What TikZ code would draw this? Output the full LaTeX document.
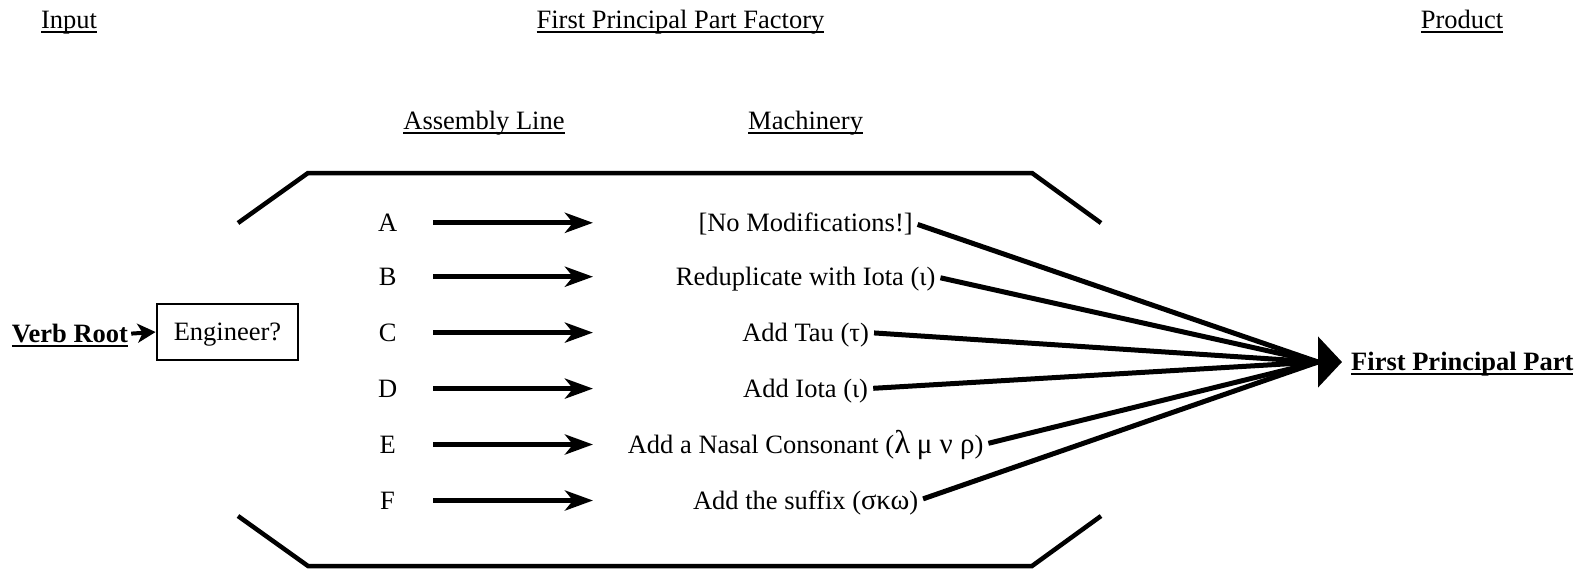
\documentclass[tikz,border=0pt]{standalone}
\usepackage{fontspec}
\setmainfont{Liberation Serif}
\usetikzlibrary{arrows.meta}
\newsavebox\ulbox
\newcommand\ulined[1]{\sbox\ulbox{#1}\rlap{\rule[-4.5pt]{\wd\ulbox}{2.2pt}}\usebox\ulbox}
\begin{document}
\begin{tikzpicture}[x=1pt,y=-1pt,
  txt/.style={inner sep=0pt, text height=17.5pt, text depth=0pt,
    font=\fontsize{26.5}{30}\selectfont},
  heading/.style={txt},
  wall/.style={line width=4.5pt},
  feed/.style={line width=5pt, -{Stealth[length=28pt,width=20pt,inset=8pt]}},
  spoke/.style={line width=5pt, shorten <=5pt},
  outarrow/.style={line width=5pt, -{Triangle[length=24pt,width=50pt]}},
  inarrow/.style={line width=4pt, -{Stealth[length=18pt,width=19pt,inset=5pt]}},
  engbox/.style={draw, line width=2.8pt, inner sep=0pt, minimum width=141pt,
    minimum height=56pt, text height=17.5pt, text depth=0pt,
    font=\fontsize{26.5}{30}\selectfont}]
\useasboundingbox (0,0) rectangle (1595,571);

% column headings
\node[heading] (hIn)   at (69,19.5)    {\ulined{Input}};
\node[heading] (hFac)  at (680.5,19.5) {\ulined{First Principal Part Factory}};
\node[heading] (hOut)  at (1462,19.5)  {\ulined{Product}};
\node[heading] (hLine) at (484,121)    {\ulined{Assembly Line}};
\node[heading] (hMach) at (805.6,121)  {\ulined{Machinery}};

% factory walls
\draw[wall] (238,223) -- (308,173) -- (1032,173) -- (1101,223);
\draw[wall] (238,516) -- (308,566) -- (1032,566) -- (1101,516);

% input side
\node[txt] (root) at (70,333.6) {\ulined{\bfseries Verb Root}};
\node[engbox] (eng) at (227.5,332) {Engineer?};
\draw[inarrow] (root.east) ++(3,0) coordinate (rootout) -- (eng.west);

% output
\node[txt,anchor=west] (fpp) at (1351,362) {\ulined{\bfseries First Principal Part}};
\coordinate (hub) at (1318,362);
\draw[outarrow, shorten >=9pt] (hub) -- (fpp.west);

% assembly line: letter, arrow, machine, spoke to the hub
\foreach \n/\lab/\y/\mach in {
  1/A/222.8/{[No Modifications!]},
  2/B/276.7/{Reduplicate with Iota (ι)},
  3/C/332.6/{Add Tau (τ)},
  4/D/388.6/{Add Iota (ι)},
  5/E/444.5/{Add a Nasal Consonant ({\fontsize{33}{30}\selectfont λ} {\fontsize{29}{30}\selectfont μ ν ρ})},
  6/F/500.5/{Add the suffix ({\fontsize{28.5}{30}\selectfont σκω})}}{
  \node[txt] (L\n) at (387.6,\y) {\lab};
  \coordinate (S\n) at (433,\y);
  \coordinate (T\n) at (593,\y);
  \draw[feed] (S\n) -- (T\n);
  \node[txt] (M\n) at (805.6,\y) {\mach};
  \draw[spoke] (M\n.east) -- (hub);
}
\end{tikzpicture}
\end{document}
